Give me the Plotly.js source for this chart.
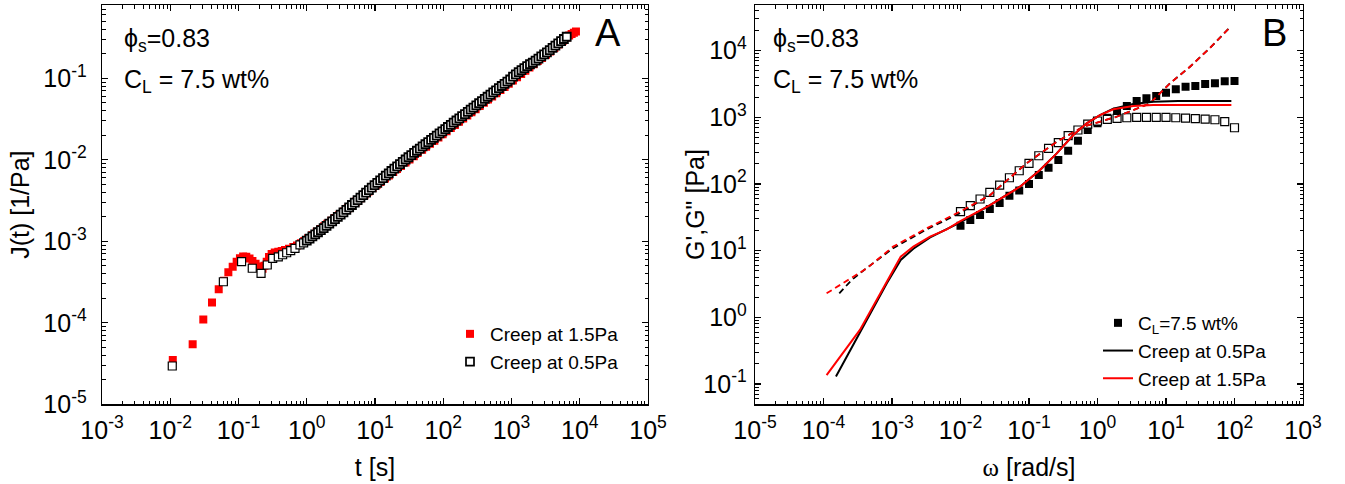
<!DOCTYPE html>
<html>
<head>
<meta charset="utf-8">
<script src="https://cdn.plot.ly/plotly-3.0.1.min.js"></script>
<style>html,body{margin:0;padding:0;background:#fff;}#chart{width:1345px;height:484px;}</style>
</head>
<body>
<div id="chart"></div>
<script>
// ---------- Panel A: creep compliance J(t) ----------
const tRed = [0.0109,0.0213,0.0305,0.0409,0.0513,0.0613,0.071,0.0822,0.094,0.105,0.117,0.13,0.145,0.16,0.178,0.195,0.21,0.225,0.24,0.259,0.28,0.306,0.34,0.383,0.43,0.48,0.55,0.635,0.72,0.82,0.92,1.05,
  1.2,1.4,1.6,1.8,2.0,2.3,2.6,3.0,3.5,4.0,4.6,5.3,6.1,7.0,8.0,9.2,10.6,12,14,16,18.5,21,24,28,32,37,42,49,56,64,74,85,98,112,129,148,170,196,225,259,298,342,394,453,521,599,689,792,911,1048,1205,1386,1594,1833,2108,2424,2788,3206,3687,4240,4876,5607,6448,7000,7600,8200,8800];
const jRed = [3.5e-5,5.45e-5,1.10e-4,1.77e-4,2.58e-4,3.29e-4,4.17e-4,4.89e-4,5.62e-4,6.2e-4,6.5e-4,6.45e-4,6.15e-4,5.75e-4,5.3e-4,4.9e-4,4.6e-4,4.6e-4,5.0e-4,5.6e-4,6.4e-4,7.0e-4,7.3e-4,7.45e-4,7.6e-4,7.8e-4,8.1e-4,8.5e-4,8.9e-4,9.5e-4,1.01e-3,1.09e-3,
  1.19e-3,1.31e-3,1.42e-3,1.53e-3,1.64e-3,1.79e-3,1.93e-3,2.10e-3,2.32e-3,2.54e-3,2.79e-3,3.07e-3,3.38e-3,3.72e-3,4.08e-3,4.50e-3,4.94e-3,5.36e-3,5.90e-3,6.44e-3,7.08e-3,7.70e-3,8.40e-3,9.30e-3,1.01e-2,1.11e-2,1.21e-2,1.33e-2,1.45e-2,1.57e-2,1.72e-2,1.88e-2,2.06e-2,2.24e-2,2.46e-2,2.68e-2,2.93e-2,3.21e-2,3.51e-2,3.84e-2,4.19e-2,4.59e-2,5.02e-2,5.49e-2,6.00e-2,6.55e-2,7.17e-2,7.84e-2,8.58e-2,9.40e-2,0.103,0.113,0.124,0.136,0.149,0.163,0.178,0.195,0.214,0.236,0.260,0.287,0.316,0.335,0.350,0.362,0.375];

const tBlk = [0.0107,0.060,0.111,0.159,0.214,0.264,0.317,0.383,0.443,0.508,0.582,0.673,0.796,0.9,
  1.00,1.10,1.21,1.33,1.46,1.61,1.77,1.95,2.14,2.36,2.59,2.85,3.14,3.45,3.80,4.18,4.59,5.05,5.56,6.12,6.73,7.40,8.14,8.95,9.85,
  10.8,11.9,13.1,14.4,15.9,17.4,19.2,21.1,23.2,25.5,28.1,30.9,34.0,37.4,41.1,45.3,49.8,54.8,60.2,66.3,72.9,80.2,88.2,97.0,
  107,117,129,142,156,172,189,208,229,252,277,305,335,369,406,446,491,540,594,653,719,791,870,957,
  1053,1158,1274,1401,1541,1695,1865,2051,2256,2482,2730,3003,3304,3634,3997,4397,4837,5320,5852,6437];
const jBlk = [2.95e-5,3.19e-4,5.62e-4,4.67e-4,4.05e-4,5.12e-4,6.18e-4,6.46e-4,6.84e-4,7.24e-4,7.67e-4,8.2e-4,9.02e-4,9.55e-4,
  1.020e-3,1.082e-3,1.148e-3,1.218e-3,1.292e-3,1.371e-3,1.455e-3,1.549e-3,1.650e-3,1.757e-3,1.871e-3,1.992e-3,2.121e-3,2.272e-3,2.433e-3,2.606e-3,2.791e-3,2.989e-3,3.201e-3,3.435e-3,3.686e-3,3.956e-3,4.245e-3,4.555e-3,4.888e-3,
  5.225e-3,5.586e-3,5.971e-3,6.383e-3,6.824e-3,7.295e-3,7.784e-3,8.305e-3,8.862e-3,9.455e-3,1.009e-2,1.076e-2,1.144e-2,1.216e-2,1.293e-2,1.374e-2,1.460e-2,1.552e-2,1.650e-2,1.754e-2,1.864e-2,1.981e-2,2.106e-2,2.238e-2,
  2.379e-2,2.529e-2,2.688e-2,2.857e-2,3.037e-2,3.228e-2,3.431e-2,3.647e-2,3.876e-2,4.120e-2,4.379e-2,4.654e-2,4.947e-2,5.258e-2,5.589e-2,5.940e-2,6.314e-2,6.711e-2,7.133e-2,7.582e-2,8.059e-2,8.566e-2,9.105e-2,9.677e-2,
  0.1050,0.1120,0.1192,0.1262,0.1335,0.1410,0.1490,0.1553,0.1648,0.1748,0.1855,0.1968,0.2088,0.2223,0.2367,0.2520,0.2683,0.2856,0.3041,0.3237];

// ---------- Panel B: moduli ----------
const wExp = [0.01,0.0139,0.0193,0.0268,0.0373,0.0518,0.0720,0.1,0.139,0.193,0.268,0.373,0.518,0.720,1.0,1.39,1.93,2.68,3.73,5.18,7.20,10,13.9,19.3,26.8,37.3,51.8,72.0,100];
const gPrime = [23.7,28.8,34.2,42,52,66.7,80,99.8,136,175,229,315,446,645,812,986,1213,1477,1755,1927,2085,2338,2630,2877,2944,3155,3235,3467,3500];
const gDouble = [38.4,47.2,59.5,75,96.4,124,158,204,265,343,416,530,645,793,880,933,966,986,1000,1000,1000,1000,986,976,953,942,920,859,698];

const wSolBlk = [1.52e-4,3.4e-4,8.4e-4,1.34e-3,2.05e-3,3.6e-3,6.3e-3,9.8e-3,2.7e-2,7.4e-2,0.145,0.254,0.444,0.695,1.087,1.70,3.33,6.5,15,90];
const gSolBlk = [0.129,0.575,3.24,7.24,10.7,15.8,20.9,26.3,48.3,91,162,288,542,813,1081,1349,1585,1718,1754,1754];
const wSolRed = [1.11e-4,3.4e-4,8.4e-4,1.34e-3,2.05e-3,3.6e-3,6.3e-3,9.8e-3,2.7e-2,7.4e-2,0.145,0.254,0.444,0.695,1.087,1.70,3.33,6.5,15,90];
const gSolRed = [0.136,0.646,3.42,8.11,11.5,16.2,20.9,27.5,48.3,91,162,288,542,813,1081,1318,1476,1528,1528,1528];

const wDashBlk = [1.7e-4,2.58e-4,4.04e-4,1.04e-3,3.2e-3,9.8e-3,2.7e-2,9.2e-2,0.254,0.62,1.7,1.9,3.33,5.84,11.4,22.4,43.9,83];
const gDashBlk = [2.29,3.63,5.25,10.9,20.8,36.5,68,204,430,723,986,1020,1285,1618,3230,5740,11000,21600];
const wDashRed = [1.11e-4,2.3e-4,4.3e-4,1.04e-3,3.2e-3,9.8e-3,2.7e-2,9.2e-2,0.254,0.62,1.7,1.9,3.33,5.84,11.4,22.4,43.9,83];
const gDashRed = [2.29,3.63,5.43,11.5,21.6,38.4,68,204,430,723,986,1020,1285,1618,3230,5740,11000,21600];

// ---------- tick labels ----------
const xTickValsA = [1e-3,1e-2,1e-1,1e0,1e1,1e2,1e3,1e4,1e5];
const xTickTextA = ['10<sup>-3</sup>','10<sup>-2</sup>','10<sup>-1</sup>','10<sup>0</sup>','10<sup>1</sup>','10<sup>2</sup>','10<sup>3</sup>','10<sup>4</sup>','10<sup>5</sup>'];
const yTickValsA = [1e-5,1e-4,1e-3,1e-2,1e-1];
const yTickTextA = ['10<sup>-5</sup>','10<sup>-4</sup>','10<sup>-3</sup>','10<sup>-2</sup>','10<sup>-1</sup>'];
const xTickValsB = [1e-5,1e-4,1e-3,1e-2,1e-1,1e0,1e1,1e2,1e3];
const xTickTextB = ['10<sup>-5</sup>','10<sup>-4</sup>','10<sup>-3</sup>','10<sup>-2</sup>','10<sup>-1</sup>','10<sup>0</sup>','10<sup>1</sup>','10<sup>2</sup>','10<sup>3</sup>'];
const yTickValsB = [1e-1,1e0,1e1,1e2,1e3,1e4];
const yTickTextB = ['10<sup>-1</sup>','10<sup>0</sup>','10<sup>1</sup>','10<sup>2</sup>','10<sup>3</sup>','10<sup>4</sup>'];

function minorVals(lo, hi) {
  const v = [];
  for (let e = lo; e < hi; e++) for (let m = 2; m < 10; m++) v.push(m * Math.pow(10, e));
  return v;
}

const FONT = 'Liberation Sans, Arial, sans-serif';
const W = 1345, H = 484;
const px = x => x / W, py = y => 1 - y / H;

function axisBase(tv, tt, minor, standoff) {
  return {
    type: 'log', showgrid: false, zeroline: false,
    showline: true, linecolor: '#000', linewidth: 1.3, mirror: 'ticks',
    ticks: 'inside', ticklen: 6, tickwidth: 1.3, tickcolor: '#000',
    tickmode: 'array', tickvals: tv, ticktext: tt, ticklabelstandoff: standoff,
    tickfont: {family: FONT, size: 25, color: '#000'},
    minor: {ticks: 'inside', ticklen: 3.5, tickwidth: 1, tickcolor: '#000', tickmode: 'array', tickvals: minor, showgrid: false}
  };
}

const yDom = [py(404.3), py(5)];
// dense long-time part of the open-square series is drawn with a heavier outline
const blkEdge = tBlk.map(t => (t >= 1 ? 1.8 : 1.2));

const traces = [
  {x: tRed, y: jRed, type: 'scatter', mode: 'markers', name: 'Creep at 1.5Pa', xaxis: 'x', yaxis: 'y', legend: 'legend',
   marker: {symbol: 'square', size: 8, color: '#ff0000', line: {width: 0}}},
  {x: tBlk, y: jBlk, type: 'scatter', mode: 'markers', name: 'Creep at 0.5Pa', xaxis: 'x', yaxis: 'y', legend: 'legend',
   marker: {symbol: 'square', size: 8, color: '#ffffff', line: {width: blkEdge, color: '#000'}}},

  {x: wExp, y: gPrime, type: 'scatter', mode: 'markers', name: 'C<sub>L</sub>=7.5 wt%', xaxis: 'x2', yaxis: 'y2', legend: 'legend2',
   marker: {symbol: 'square', size: 8, color: '#000', line: {width: 0}}},
  {x: wExp, y: gDouble, type: 'scatter', mode: 'markers', name: 'G\'\' C_L=7.5', showlegend: false, xaxis: 'x2', yaxis: 'y2',
   marker: {symbol: 'square', size: 8, color: '#fff', line: {width: 1.2, color: '#000'}}},
  {x: wDashBlk, y: gDashBlk, type: 'scatter', mode: 'lines', showlegend: false, xaxis: 'x2', yaxis: 'y2',
   line: {color: '#000', width: 1.8, dash: '6px,4px'}},
  {x: wDashRed, y: gDashRed, type: 'scatter', mode: 'lines', showlegend: false, xaxis: 'x2', yaxis: 'y2',
   line: {color: '#ff0000', width: 1.8, dash: '6px,4px'}},
  {x: wSolBlk, y: gSolBlk, type: 'scatter', mode: 'lines', name: 'Creep at 0.5Pa', xaxis: 'x2', yaxis: 'y2', legend: 'legend2',
   line: {color: '#000', width: 2}},
  {x: wSolRed, y: gSolRed, type: 'scatter', mode: 'lines', name: 'Creep at 1.5Pa', xaxis: 'x2', yaxis: 'y2', legend: 'legend2',
   line: {color: '#ff0000', width: 2}}
];

const titleFont = {family: FONT, size: 25, color: '#000'};
const xa = axisBase(xTickValsA, xTickTextA, minorVals(-3, 5), 3);
Object.assign(xa, {domain: [px(102), px(648)], range: [-3, 5], anchor: 'y',
  title: {text: 't [s]', font: titleFont, standoff: 16}});
const ya = axisBase(yTickValsA, yTickTextA, minorVals(-5, 0), 9);
Object.assign(ya, {domain: yDom, range: [-5, -0.1], anchor: 'x',
  title: {text: 'J(t) [1/Pa]', font: titleFont, standoff: 6}});
const xb = axisBase(xTickValsB, xTickTextB, minorVals(-5, 3), 3);
Object.assign(xb, {domain: [px(755), px(1303)], range: [-5, 3], anchor: 'y2',
  title: {text: '<span style="font-family:Liberation Serif">ω</span> [rad/s]', font: titleFont, standoff: 16}});
const yb = axisBase(yTickValsB, yTickTextB, minorVals(-2, 5), 2);
Object.assign(yb, {domain: yDom, range: [-1.305, 4.685], anchor: 'x2'});

const annFont = {family: FONT, size: 25, color: '#000'};
const layout = {
  width: W, height: H,
  margin: {l: 0, r: 0, t: 0, b: 0},
  paper_bgcolor: '#fff', plot_bgcolor: '#fff',
  xaxis: xa, yaxis: ya, xaxis2: xb, yaxis2: yb,
  legend: {x: px(450), y: py(315), xanchor: 'left', yanchor: 'top', bgcolor: 'rgba(0,0,0,0)',
           font: {family: FONT, size: 19, color: '#000'}},
  legend2: {x: px(1098), y: py(304), xanchor: 'left', yanchor: 'top', bgcolor: 'rgba(0,0,0,0)',
           font: {family: FONT, size: 19, color: '#000'}},
  annotations: [
    {xref: 'paper', yref: 'paper', x: px(695), y: py(205), xanchor: 'center', yanchor: 'middle', showarrow: false,
     textangle: -90, text: 'G\',G" [Pa]', font: titleFont},
    {xref: 'paper', yref: 'paper', x: px(122), y: py(40), xanchor: 'left', yanchor: 'middle', showarrow: false,
     text: 'ϕ<sub>s</sub>=0.83', font: annFont},
    {xref: 'paper', yref: 'paper', x: px(122), y: py(81), xanchor: 'left', yanchor: 'middle', showarrow: false,
     text: 'C<sub>L</sub> = 7.5 wt%', font: annFont},
    {xref: 'paper', yref: 'paper', x: px(608), y: py(33), xanchor: 'center', yanchor: 'middle', showarrow: false,
     text: 'A', font: {family: FONT, size: 38, color: '#000'}},
    {xref: 'paper', yref: 'paper', x: px(771), y: py(40), xanchor: 'left', yanchor: 'middle', showarrow: false,
     text: 'ϕ<sub>s</sub>=0.83', font: annFont},
    {xref: 'paper', yref: 'paper', x: px(771), y: py(81), xanchor: 'left', yanchor: 'middle', showarrow: false,
     text: 'C<sub>L</sub> = 7.5 wt%', font: annFont},
    {xref: 'paper', yref: 'paper', x: px(1274), y: py(33), xanchor: 'center', yanchor: 'middle', showarrow: false,
     text: 'B', font: {family: FONT, size: 38, color: '#000'}}
  ]
};

Plotly.newPlot('chart', traces, layout, {displayModeBar: false, staticPlot: true});
</script>
</body>
</html>
